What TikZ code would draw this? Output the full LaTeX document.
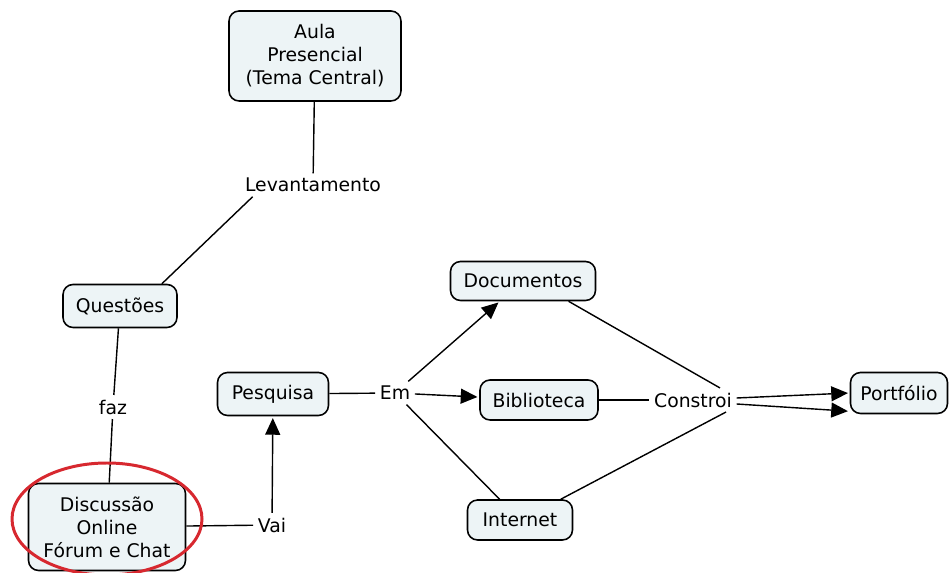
\documentclass[tikz,border=0pt]{standalone}
\usepackage{fontspec}
\setmainfont{DejaVu Sans}
\usetikzlibrary{arrows.meta,calc}
\definecolor{conceptfill}{HTML}{EDF4F6}
\definecolor{circlered}{HTML}{D7282F}

\begin{document}
\begin{tikzpicture}[x=0.02cm,y=-0.02cm,
    every node/.style={font=\fontsize{10.7}{13.1}\selectfont},
    concept/.style={draw=black,line width=0.9pt,fill=conceptfill,rounded corners=0.2cm,align=center,inner sep=0pt},
    phrase/.style={inner sep=2.5pt},
    link/.style={line width=0.8pt},
    linkarrow/.style={line width=0.8pt,shorten >=1pt,-{Triangle[length=9.5pt,width=8.5pt]}}]
                \useasboundingbox (0,0) rectangle (950,573);
                % Concepts
                \node[concept,minimum width=3.44cm,minimum height=1.8cm] (aula) at (315,56) {Aula\\Presencial\\(Tema Central)};
                \node[concept,minimum width=2.28cm,minimum height=0.86cm] (quest) at (120,306) {Questões};
                \node[concept,minimum width=3.14cm,minimum height=1.74cm] (disc) at (107,527) {Discussão\\Online\\Fórum e Chat};
                \node[concept,minimum width=2.22cm,minimum height=0.86cm] (pesq) at (273,394) {Pesquisa};
                \node[concept,minimum width=2.9cm,minimum height=0.78cm] (docs) at (523,281) {Documentos};
                \node[concept,minimum width=2.36cm,minimum height=0.8cm] (bibl) at (539,400) {Biblioteca};
                \node[concept,minimum width=2.1cm,minimum height=0.8cm] (inet) at (520,520) {Internet};
                \node[concept,minimum width=1.94cm,minimum height=0.82cm] (port) at (899,393) {Portfólio};
                % Linking phrases
                \node[phrase] (lev) at (313,185) {Levantamento};
                \node[phrase] (faz) at (113,407) {faz};
                \node[phrase] (vai) at (272,525) {Vai};
                \node[phrase] (em) at (395,393) {Em};
                \node[phrase] (cons) at (693,400) {Constroi};
                % Links
                \draw[link] (aula) -- (lev);
                \draw[link] (lev.191) -- (quest.28);
                \draw[link] (quest) -- (faz);
                \draw[link] (faz) -- (disc);
                \draw[link] (disc) -- (vai);
                \draw[linkarrow] (vai) -- (pesq);
                \draw[link] (pesq) -- (em);
                \draw[linkarrow] (em) -- (docs);
                \draw[linkarrow] (em) -- (bibl);
                \draw[link] (em) -- (inet);
                \draw[link] (docs.-24) -- (cons.24);
                \draw[link] (bibl) -- (cons);
                \draw[link] (inet.27) -- (cons.-20);
                \draw[linkarrow] ($(cons.east)+(0,-2)$) -- (port.west);
                \draw[linkarrow] ($(cons.east)+(0,4)$) -- ($(port.south west)+(0,-3)$);
                % Highlight
                \draw[circlered,line width=1.7pt] (107,519) ellipse [x radius=95, y radius=56];
\end{tikzpicture}
\end{document}
